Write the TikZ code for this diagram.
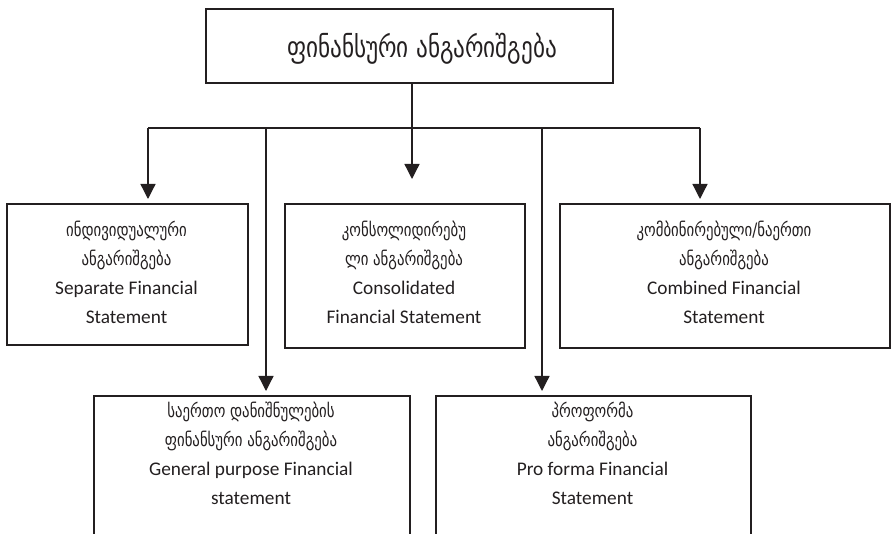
\documentclass[tikz,border=0pt]{standalone}
\usepackage{fontspec}
\setmainfont{Carlito}
\newfontfamily\geofont[FakeStretch=0.8]{DejaVu Sans}
\usetikzlibrary{arrows.meta}
\definecolor{ink}{HTML}{231F20}
% Georgian lines in the boxes
\newcommand\ka[1]{{\geofont\fontsize{18.5}{29}\selectfont #1}}
\begin{document}
\begin{tikzpicture}[x=1pt,y=-1pt,
  box/.style={draw=ink, line width=1.7pt, rectangle, inner sep=0pt, anchor=north west},
  txt/.style={align=center, text=ink, inner sep=0pt, font=\fontsize{19.3}{29}\selectfont},
  link/.style={draw=ink, line width=1.3pt},
  arr/.style={link, -{Triangle[length=15pt,width=15pt]}}
]
\useasboundingbox (0,0) rectangle (894,534);
\clip (0,0) rectangle (894,534);

% root
\node[box, minimum width=407pt, minimum height=74pt] (root) at (205,8) {};
\node[txt] (roott) at (422,49) {{\geofont\fontsize{29}{29}\selectfont ფინანსური ანგარიშგება}};

% first row
\node[box, minimum width=241pt, minimum height=141pt] (sep) at (6,203) {};
\node[txt] (sept) at (126.5,272) {\ka{ინდივიდუალური}\\\ka{ანგარიშგება}\\Separate Financial\\Statement};

\node[box, minimum width=240pt, minimum height=144pt] (cons) at (284,203) {};
\node[txt] (const) at (404,272.5) {\ka{კონსოლიდირებუ}\\\ka{ლი ანგარიშგება}\\Consolidated\\Financial Statement};

\node[box, minimum width=330pt, minimum height=144pt] (comb) at (559,203) {};
\node[txt] (combt) at (724,272.5) {\ka{კომბინირებული/ნაერთი}\\\ka{ანგარიშგება}\\Combined Financial\\Statement};

% second row
\node[box, minimum width=316pt, minimum height=170pt] (gen) at (93,395) {};
\node[txt] (gent) at (251,453) {\ka{საერთო დანიშნულების}\\\ka{ფინანსური ანგარიშგება}\\General purpose Financial\\statement};

\node[box, minimum width=315pt, minimum height=170pt] (pro) at (435,395) {};
\node[txt] (prot) at (592.5,453) {\ka{პროფორმა}\\\ka{ანგარიშგება}\\Pro forma Financial\\Statement};

% bus
\coordinate (jL) at (148,128);
\coordinate (jG) at (266,128);
\coordinate (jM) at (412,128);
\coordinate (jP) at (542,128);
\coordinate (jR) at (700,128);

\draw[link] (jM |- root.south) -- (jM);
\draw[link] (jL) -- (jR);
\draw[arr, shorten >=4pt] (jL) -- (jL |- sep.north);
\draw[arr, shorten >=24pt] (jM) -- (jM |- cons.north);
\draw[arr, shorten >=4pt] (jR) -- (jR |- comb.north);
\draw[arr, shorten >=4pt] (jG) -- (jG |- gen.north);
\draw[arr, shorten >=4pt] (jP) -- (jP |- pro.north);
\end{tikzpicture}
\end{document}
